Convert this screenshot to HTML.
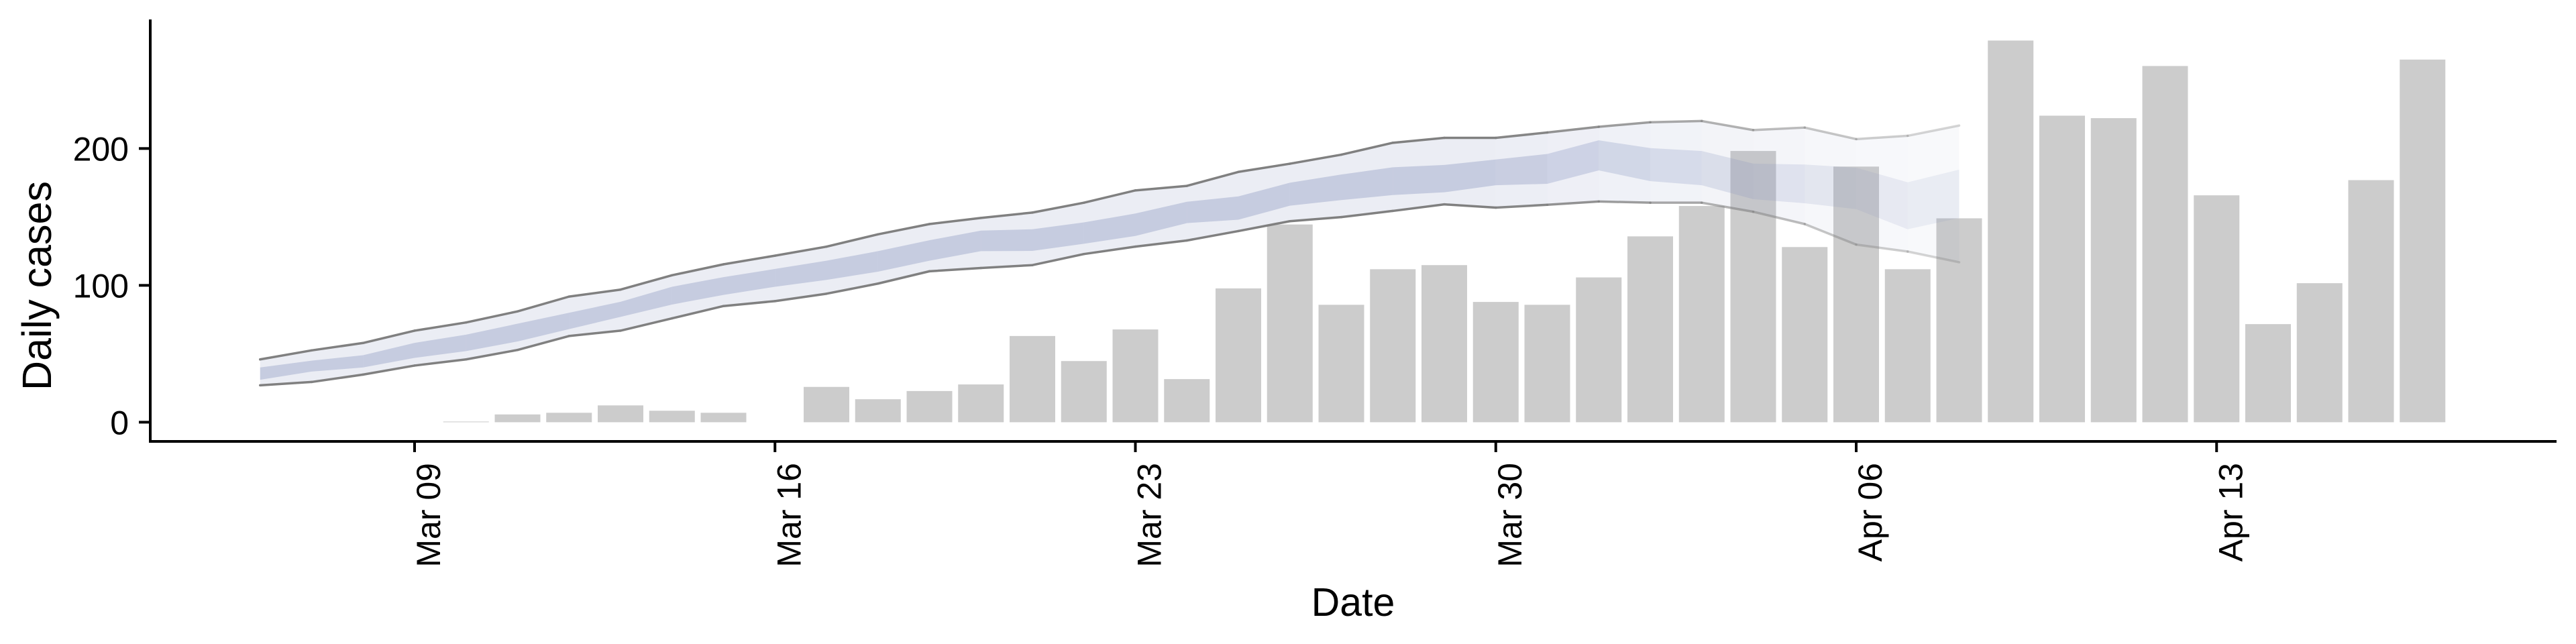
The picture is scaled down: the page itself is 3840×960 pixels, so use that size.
<!DOCTYPE html>
<html><head><meta charset="utf-8"><style>
html,body{margin:0;padding:0;background:#fff;}
svg{display:block;font-family:"Liberation Sans",Arial,sans-serif;}
</style></head><body>
<svg id="chart" width="3840" height="960" viewBox="0 0 3840 960" xmlns="http://www.w3.org/2000/svg">
<g id="bars"></g>
<g id="bands"></g>
<g id="lines"></g>
<g id="axes"></g>
<text x="0" y="0" font-size="61" text-anchor="middle" transform="translate(76,426) rotate(-90)">Daily cases</text>
<text x="2017" y="918" font-size="59" text-anchor="middle">Date</text>
</svg>
<script>
// bars: days since Mar 09 and observed daily cases
const barDays = [1,2,3,4,5,6,7,8,9,10,11,12,13,14,15,16,17,18,19,20,21,22,23,24,25,26,27,28,29,30,31,32,33,34,35,36,37,38,39];
const barValues = [0.5,5.7,6.9,12.3,8.4,6.9,0,25.8,16.8,22.8,27.6,63,44.7,67.8,31.5,97.8,144.5,85.8,111.8,114.8,87.9,85.8,105.8,135.8,158,198.2,128,186.8,111.8,149,278.9,224,222.2,260.3,165.8,71.7,101.6,176.9,265];
// forecast band: Mar 06 .. Apr 08
const bandDays = [-3,-2,-1,0,1,2,3,4,5,6,7,8,9,10,11,12,13,14,15,16,17,18,19,20,21,22,23,24,25,26,27,28,29,30];
const outerHi = [45.9,52.5,57.9,66.9,72.9,81,91.8,96.9,107.4,115.4,121.7,128.3,137.3,144.8,149.3,153.2,160.4,169.4,172.7,182.9,188.9,195.5,204.2,207.8,207.8,211.7,215.9,219.2,220.1,213.5,215.3,206.9,209.3,216.8];
const outerLo = [27,29.4,34.8,41.4,45.9,52.8,63,66.9,75.9,84.9,88.5,93.9,101.3,110.3,112.7,114.8,122.9,128.3,132.8,139.7,146.9,149.9,154.4,159.2,156.8,158.9,161.3,160.4,160.4,153.8,144.8,129.8,124.7,116.9];
const innerHi = [40,45,49,58,64,72,80,88,99,106,112,118,125,133,140,141,146,152.5,161.1,165,175,181,186.3,188,192,196,206,200.3,198.2,189,188.3,186,175.3,184.6];
const innerLo = [31,37,40,47,52,59,68,77,86,93,99,104,110,118,125,125.2,130.4,136.1,145.5,148,158.2,162.3,166,168,173.2,174.2,184,176.2,173.2,163,160,155.7,141,149.2];
const bandFade = [1,1,1,1,1,1,1,1,1,1,1,1,1,1,1,1,1,1,1,1,1,1,1,1,1,0.9,0.8,0.72,0.64,0.56,0.48,0.42,0.36,0.3];
const yTicks = [0,100,200];
const xTickDays = [0,7,14,21,28,35];
const xTickLabels = ["Mar 09","Mar 16","Mar 23","Mar 30","Apr 06","Apr 13"];

const NS="http://www.w3.org/2000/svg";
const x = d => 618 + d*76.75;
const y = v => 629.4 - v*2.04;
function mk(tag, attrs, parent){const e=document.createElementNS(NS,tag);for(const k in attrs)e.setAttribute(k,attrs[k]);parent.appendChild(e);return e;}

const gb=document.getElementById('bars');
barDays.forEach((d,i)=>{
  const v=barValues[i]; if(v<=0) return;
  const r=mk('rect',{x:x(d)-34,y:y(v),width:68,height:y(0)-y(v),fill:'#cccccc'},gb);
  
  
});

const gband=document.getElementById('bands');
const gl=document.getElementById('lines');
for(let i=0;i<bandDays.length-1;i++){
  const f=(bandFade[i]+bandFade[i+1])/2;
  const x0=x(bandDays[i]), x1=x(bandDays[i+1]);
  const o=mk('polygon',{points:`${x0},${y(outerHi[i])} ${x1},${y(outerHi[i+1])} ${x1},${y(outerLo[i+1])} ${x0},${y(outerLo[i])}`,fill:'rgb(135,148,190)','fill-opacity':0.17*f},gband);
  
  
  const n=mk('polygon',{points:`${x0},${y(innerHi[i])} ${x1},${y(innerHi[i+1])} ${x1},${y(innerLo[i+1])} ${x0},${y(innerLo[i])}`,fill:'rgb(135,148,190)','fill-opacity':0.37*f},gband);
  
  
  const lu=mk('line',{x1:x0,y1:y(outerHi[i]),x2:x1,y2:y(outerHi[i+1]),stroke:'#808080','stroke-width':3.5,'stroke-opacity':f,'stroke-linecap':'round'},gl);
  
  
  const ll=mk('line',{x1:x0,y1:y(outerLo[i]),x2:x1,y2:y(outerLo[i+1]),stroke:'#808080','stroke-width':3.5,'stroke-opacity':f,'stroke-linecap':'round'},gl);
  
  
}

const ga=document.getElementById('axes');
const ya=mk('line',{x1:224,y1:29,x2:224,y2:660,stroke:'#000','stroke-width':4},ga);


const xa=mk('line',{x1:222,y1:658,x2:3811,y2:658,stroke:'#000','stroke-width':4},ga);


yTicks.forEach(v=>{
  const t=mk('line',{x1:207,y1:y(v),x2:224,y2:y(v),stroke:'#000','stroke-width':4},ga);
  
  
  const l=mk('text',{x:192,y:y(v)+18,'font-size':50,'text-anchor':'end',fill:'#000'},ga);
  l.textContent=String(v);
  
  
});
xTickDays.forEach((d,i)=>{
  const t=mk('line',{x1:x(d),y1:658,x2:x(d),y2:674,stroke:'#000','stroke-width':4},ga);
  
  
  const l=mk('text',{x:0,y:0,'font-size':50,'text-anchor':'end',fill:'#000',transform:`translate(${x(d)+38},690) rotate(-90)`},ga);
  l.textContent=xTickLabels[i];
  
  
});
</script>
</body></html>
